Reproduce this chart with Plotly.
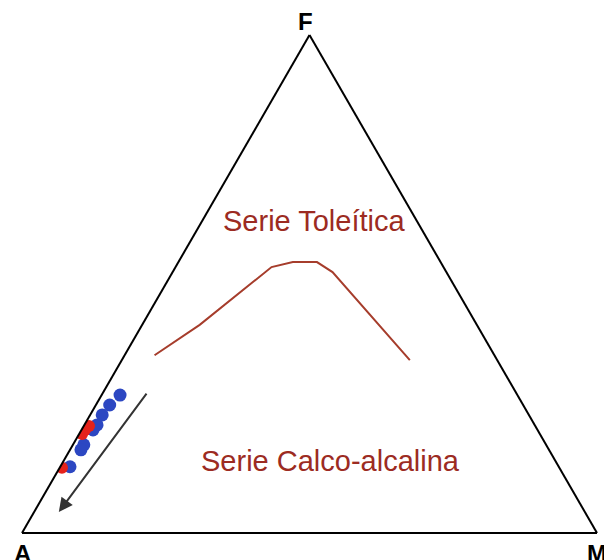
import plotly.graph_objects as go

# AFM diagram: F (top), A (bottom left), M (bottom right), values in %
# boundary Toleítica / Calco-alcalina
curve_f = [35.7, 41.8, 53.4, 54.4, 54.4, 52.4, 34.7]
curve_a = [59.1, 48.2, 29.9, 25.7, 21.5, 19.8, 15.2]
curve_m = [5.2, 10.0, 16.7, 19.9, 24.1, 27.8, 50.1]

# samples (blue)
blue_f = [27.7, 25.7, 23.7, 21.7, 20.7, 17.7, 16.7, 13.3]
blue_a = [69.1, 71.9, 74.2, 76.1, 77.3, 80.4, 81.4, 85.0]
blue_m = [3.2, 2.4, 2.1, 2.2, 2.0, 1.9, 1.9, 1.7]

# samples (red)
red_f = [21.5, 20.7, 19.9, 13.1]
red_a = [77.6, 78.7, 79.6, 86.5]
red_m = [0.9, 0.6, 0.5, 0.4]

# differentiation trend arrow (start, end) as F, M fractions
arrow_f = [0.283, 0.042]
arrow_m = [0.077, 0.043]

line_col = "#a63d2c"
text_col = "#9c2b22"

# page body adds an 8px offset, margins compensate for it
W, H = 612, 560
ML, MR, MT, MB = 14, 23, 27, 35
PW, PH = W - ML - MR, H - MT - MB

fig = go.Figure()

fig.add_trace(go.Scatterternary(
    a=curve_f, b=curve_a, c=curve_m, mode="lines",
    line=dict(color=line_col, width=2), hoverinfo="skip"))

fig.add_trace(go.Scatterternary(
    a=blue_f, b=blue_a, c=blue_m, mode="markers",
    marker=dict(color="#2c47c2", size=13)))

fig.add_trace(go.Scatterternary(
    a=red_f, b=red_a, c=red_m, mode="markers",
    marker=dict(color="#e5221b", size=12)))


def to_paper(f, m):
    # triangle fills the plot area exactly
    return m + 0.5 * f, f


x0, y0 = to_paper(arrow_f[0], arrow_m[0])
x1, y1 = to_paper(arrow_f[1], arrow_m[1])

ax_style = dict(showgrid=False, showticklabels=False, ticks="",
                linecolor="black", linewidth=2, title=dict(text=""))

fig.update_layout(
    width=W, height=H,
    margin=dict(l=ML, r=MR, t=MT, b=MB),
    paper_bgcolor="white",
    showlegend=False,
    font=dict(family="Liberation Sans, Arial, sans-serif"),
    ternary=dict(sum=100, bgcolor="white",
                 aaxis=ax_style, baxis=ax_style, caxis=ax_style),
    annotations=[
        dict(x=x1, y=y1, xref="paper", yref="paper",
             ax=(x0 - x1) * PW, ay=-(y0 - y1) * PH, text="", showarrow=True,
             arrowhead=2, arrowsize=1.4, arrowwidth=2, arrowcolor="#333333"),
        dict(x=0.5, y=1.0, xref="paper", yref="paper", text="<b>F</b>",
             showarrow=False, yanchor="bottom", xshift=-4, yshift=-2,
             font=dict(size=24, color="black")),
        dict(x=0.0, y=0.0, xref="paper", yref="paper", text="<b>A</b>",
             showarrow=False, yanchor="top", xshift=-10, yshift=-5,
             font=dict(size=24, color="black")),
        dict(x=1.0, y=0.0, xref="paper", yref="paper", text="<b>M</b>",
             showarrow=False, yanchor="top", xshift=12, yshift=-5,
             font=dict(size=24, color="black")),
        dict(x=0.507, y=0.626, xref="paper", yref="paper", text="Serie Toleítica",
             showarrow=False, font=dict(size=29, color=text_col)),
        dict(x=0.536, y=0.108, xref="paper", yref="paper", text="Serie Calco-alcalina",
             showarrow=False, font=dict(size=29, color=text_col)),
    ],
)

fig.write_html("out.html")
